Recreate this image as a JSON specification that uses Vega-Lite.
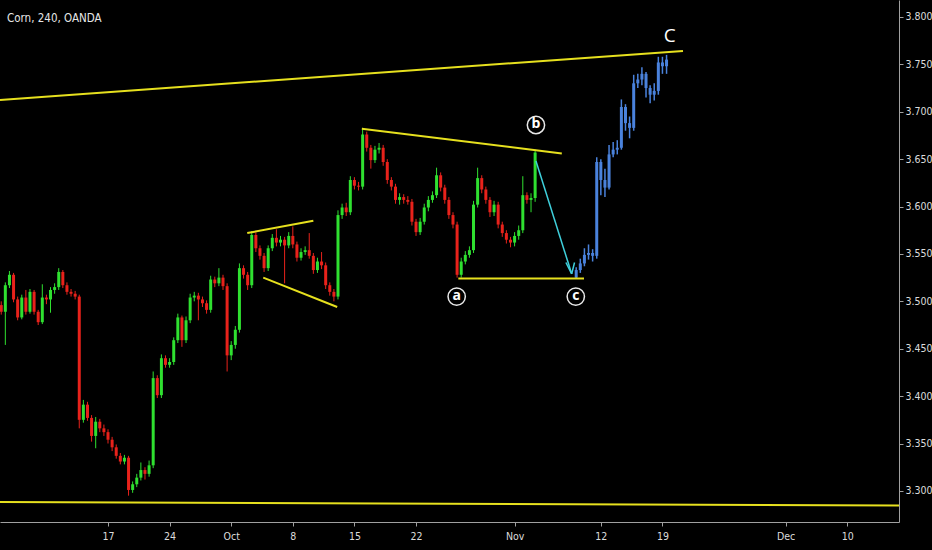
{
  "$schema": "https://vega.github.io/schema/vega-lite/v6.json",
  "width": 899,
  "height": 522,
  "autosize": {"type": "none"},
  "padding": {"left": 0, "top": 0, "right": 33, "bottom": 28},
  "background": "#000000",
  "config": {
    "view": {"stroke": null},
    "axis": {"grid": false, "domainColor": "#a0a0a0", "tickColor": "#a0a0a0", "labelColor": "#dcdcdc", "labelFont": "DejaVu Sans Condensed, Liberation Sans, sans-serif", "labelFontSize": 10.5, "tickSize": 4, "domainWidth": 1}
  },
  "title": {
    "text": "Corn, 240, OANDA",
    "anchor": "start",
    "frame": "group",
    "orient": "top",
    "offset": -23,
    "dx": 7,
    "dy": 10,
    "baseline": "alphabetic",
    "font": "DejaVu Sans Condensed, Liberation Sans, sans-serif",
    "fontSize": 11.5,
    "fontWeight": "normal",
    "color": "#e6e6e6"
  },
  "datasets": {
    "candles": [
      {"i":-26,"o":3.496,"h":3.500,"l":3.486,"c":3.489},
      {"i":-25,"o":3.489,"h":3.520,"l":3.454,"c":3.517},
      {"i":-24,"o":3.517,"h":3.532,"l":3.514,"c":3.528},
      {"i":-23,"o":3.528,"h":3.530,"l":3.499,"c":3.502},
      {"i":-22,"o":3.502,"h":3.505,"l":3.480,"c":3.483},
      {"i":-21,"o":3.483,"h":3.507,"l":3.481,"c":3.504},
      {"i":-20,"o":3.504,"h":3.512,"l":3.486,"c":3.489},
      {"i":-19,"o":3.489,"h":3.513,"l":3.487,"c":3.510},
      {"i":-18,"o":3.510,"h":3.512,"l":3.486,"c":3.489},
      {"i":-17,"o":3.489,"h":3.491,"l":3.475,"c":3.478},
      {"i":-16,"o":3.478,"h":3.518,"l":3.476,"c":3.504},
      {"i":-15,"o":3.504,"h":3.507,"l":3.497,"c":3.502},
      {"i":-14,"o":3.502,"h":3.515,"l":3.488,"c":3.512},
      {"i":-13,"o":3.512,"h":3.519,"l":3.508,"c":3.515},
      {"i":-12,"o":3.515,"h":3.535,"l":3.512,"c":3.531},
      {"i":-11,"o":3.531,"h":3.533,"l":3.514,"c":3.517},
      {"i":-10,"o":3.517,"h":3.520,"l":3.507,"c":3.510},
      {"i":-9,"o":3.510,"h":3.513,"l":3.505,"c":3.508},
      {"i":-8,"o":3.508,"h":3.511,"l":3.502,"c":3.505},
      {"i":-7,"o":3.505,"h":3.507,"l":3.366,"c":3.375},
      {"i":-6,"o":3.375,"h":3.396,"l":3.372,"c":3.391},
      {"i":-5,"o":3.391,"h":3.394,"l":3.374,"c":3.377},
      {"i":-4,"o":3.377,"h":3.380,"l":3.352,"c":3.358},
      {"i":-3,"o":3.358,"h":3.378,"l":3.345,"c":3.373},
      {"i":-2,"o":3.373,"h":3.376,"l":3.362,"c":3.366},
      {"i":-1,"o":3.366,"h":3.370,"l":3.358,"c":3.362},
      {"i":0,"o":3.362,"h":3.365,"l":3.350,"c":3.354},
      {"i":1,"o":3.354,"h":3.357,"l":3.342,"c":3.346},
      {"i":2,"o":3.346,"h":3.349,"l":3.334,"c":3.337},
      {"i":3,"o":3.337,"h":3.340,"l":3.328,"c":3.331},
      {"i":4,"o":3.331,"h":3.338,"l":3.328,"c":3.335},
      {"i":5,"o":3.335,"h":3.337,"l":3.295,"c":3.301},
      {"i":6,"o":3.301,"h":3.310,"l":3.298,"c":3.307},
      {"i":7,"o":3.307,"h":3.318,"l":3.304,"c":3.314},
      {"i":8,"o":3.314,"h":3.330,"l":3.311,"c":3.322},
      {"i":9,"o":3.322,"h":3.325,"l":3.312,"c":3.318},
      {"i":10,"o":3.318,"h":3.332,"l":3.315,"c":3.327},
      {"i":11,"o":3.327,"h":3.426,"l":3.324,"c":3.419},
      {"i":12,"o":3.419,"h":3.422,"l":3.398,"c":3.401},
      {"i":13,"o":3.401,"h":3.444,"l":3.398,"c":3.440},
      {"i":14,"o":3.440,"h":3.443,"l":3.430,"c":3.433},
      {"i":15,"o":3.433,"h":3.440,"l":3.430,"c":3.436},
      {"i":16,"o":3.436,"h":3.462,"l":3.433,"c":3.459},
      {"i":17,"o":3.459,"h":3.487,"l":3.456,"c":3.483},
      {"i":18,"o":3.483,"h":3.485,"l":3.452,"c":3.459},
      {"i":19,"o":3.459,"h":3.484,"l":3.456,"c":3.480},
      {"i":20,"o":3.480,"h":3.508,"l":3.477,"c":3.504},
      {"i":21,"o":3.504,"h":3.510,"l":3.500,"c":3.506},
      {"i":22,"o":3.506,"h":3.509,"l":3.480,"c":3.502},
      {"i":23,"o":3.502,"h":3.505,"l":3.494,"c":3.498},
      {"i":24,"o":3.498,"h":3.501,"l":3.487,"c":3.491},
      {"i":25,"o":3.491,"h":3.527,"l":3.488,"c":3.523},
      {"i":26,"o":3.523,"h":3.526,"l":3.515,"c":3.519},
      {"i":27,"o":3.519,"h":3.535,"l":3.516,"c":3.525},
      {"i":28,"o":3.525,"h":3.528,"l":3.512,"c":3.516},
      {"i":29,"o":3.516,"h":3.519,"l":3.426,"c":3.443},
      {"i":30,"o":3.443,"h":3.458,"l":3.438,"c":3.454},
      {"i":31,"o":3.454,"h":3.474,"l":3.450,"c":3.470},
      {"i":32,"o":3.470,"h":3.540,"l":3.467,"c":3.535},
      {"i":33,"o":3.535,"h":3.538,"l":3.524,"c":3.528},
      {"i":34,"o":3.528,"h":3.531,"l":3.512,"c":3.517},
      {"i":35,"o":3.517,"h":3.574,"l":3.514,"c":3.570},
      {"i":36,"o":3.570,"h":3.573,"l":3.552,"c":3.556},
      {"i":37,"o":3.556,"h":3.559,"l":3.544,"c":3.548},
      {"i":38,"o":3.548,"h":3.551,"l":3.531,"c":3.535},
      {"i":39,"o":3.535,"h":3.559,"l":3.532,"c":3.556},
      {"i":40,"o":3.556,"h":3.571,"l":3.553,"c":3.567},
      {"i":41,"o":3.567,"h":3.576,"l":3.558,"c":3.562},
      {"i":42,"o":3.562,"h":3.569,"l":3.558,"c":3.565},
      {"i":43,"o":3.565,"h":3.568,"l":3.519,"c":3.559},
      {"i":44,"o":3.559,"h":3.573,"l":3.556,"c":3.569},
      {"i":45,"o":3.569,"h":3.579,"l":3.556,"c":3.560},
      {"i":46,"o":3.560,"h":3.563,"l":3.542,"c":3.546},
      {"i":47,"o":3.546,"h":3.556,"l":3.543,"c":3.552},
      {"i":48,"o":3.552,"h":3.558,"l":3.549,"c":3.554},
      {"i":49,"o":3.554,"h":3.572,"l":3.545,"c":3.548},
      {"i":50,"o":3.548,"h":3.551,"l":3.529,"c":3.533},
      {"i":51,"o":3.533,"h":3.546,"l":3.530,"c":3.542},
      {"i":52,"o":3.542,"h":3.552,"l":3.534,"c":3.538},
      {"i":53,"o":3.538,"h":3.541,"l":3.513,"c":3.517},
      {"i":54,"o":3.517,"h":3.520,"l":3.506,"c":3.510},
      {"i":55,"o":3.510,"h":3.513,"l":3.500,"c":3.505},
      {"i":56,"o":3.505,"h":3.596,"l":3.502,"c":3.591},
      {"i":57,"o":3.591,"h":3.603,"l":3.587,"c":3.599},
      {"i":58,"o":3.599,"h":3.604,"l":3.590,"c":3.594},
      {"i":59,"o":3.594,"h":3.632,"l":3.591,"c":3.628},
      {"i":60,"o":3.628,"h":3.631,"l":3.618,"c":3.622},
      {"i":61,"o":3.622,"h":3.626,"l":3.617,"c":3.621},
      {"i":62,"o":3.621,"h":3.683,"l":3.618,"c":3.676},
      {"i":63,"o":3.676,"h":3.679,"l":3.658,"c":3.662},
      {"i":64,"o":3.662,"h":3.665,"l":3.640,"c":3.649},
      {"i":65,"o":3.649,"h":3.664,"l":3.646,"c":3.660},
      {"i":66,"o":3.660,"h":3.667,"l":3.656,"c":3.662},
      {"i":67,"o":3.662,"h":3.665,"l":3.643,"c":3.647},
      {"i":68,"o":3.647,"h":3.650,"l":3.624,"c":3.628},
      {"i":69,"o":3.628,"h":3.631,"l":3.617,"c":3.621},
      {"i":70,"o":3.621,"h":3.624,"l":3.603,"c":3.607},
      {"i":71,"o":3.607,"h":3.614,"l":3.602,"c":3.610},
      {"i":72,"o":3.610,"h":3.613,"l":3.603,"c":3.607},
      {"i":73,"o":3.607,"h":3.611,"l":3.602,"c":3.605},
      {"i":74,"o":3.605,"h":3.608,"l":3.580,"c":3.584},
      {"i":75,"o":3.584,"h":3.587,"l":3.569,"c":3.573},
      {"i":76,"o":3.573,"h":3.588,"l":3.570,"c":3.584},
      {"i":77,"o":3.584,"h":3.603,"l":3.581,"c":3.599},
      {"i":78,"o":3.599,"h":3.611,"l":3.595,"c":3.607},
      {"i":79,"o":3.607,"h":3.616,"l":3.604,"c":3.612},
      {"i":80,"o":3.612,"h":3.641,"l":3.609,"c":3.633},
      {"i":81,"o":3.633,"h":3.636,"l":3.616,"c":3.620},
      {"i":82,"o":3.620,"h":3.623,"l":3.603,"c":3.607},
      {"i":83,"o":3.607,"h":3.610,"l":3.587,"c":3.591},
      {"i":84,"o":3.591,"h":3.594,"l":3.577,"c":3.581},
      {"i":85,"o":3.581,"h":3.584,"l":3.525,"c":3.528},
      {"i":86,"o":3.528,"h":3.546,"l":3.525,"c":3.542},
      {"i":87,"o":3.542,"h":3.553,"l":3.539,"c":3.549},
      {"i":88,"o":3.549,"h":3.558,"l":3.546,"c":3.554},
      {"i":89,"o":3.554,"h":3.606,"l":3.551,"c":3.602},
      {"i":90,"o":3.602,"h":3.641,"l":3.599,"c":3.630},
      {"i":91,"o":3.630,"h":3.633,"l":3.614,"c":3.618},
      {"i":92,"o":3.618,"h":3.621,"l":3.603,"c":3.607},
      {"i":93,"o":3.607,"h":3.610,"l":3.589,"c":3.594},
      {"i":94,"o":3.594,"h":3.606,"l":3.590,"c":3.602},
      {"i":95,"o":3.602,"h":3.605,"l":3.577,"c":3.581},
      {"i":96,"o":3.581,"h":3.584,"l":3.568,"c":3.572},
      {"i":97,"o":3.572,"h":3.575,"l":3.561,"c":3.565},
      {"i":98,"o":3.565,"h":3.568,"l":3.557,"c":3.562},
      {"i":99,"o":3.562,"h":3.573,"l":3.558,"c":3.569},
      {"i":100,"o":3.569,"h":3.580,"l":3.565,"c":3.575},
      {"i":101,"o":3.575,"h":3.632,"l":3.572,"c":3.612},
      {"i":102,"o":3.612,"h":3.615,"l":3.603,"c":3.607},
      {"i":103,"o":3.607,"h":3.614,"l":3.594,"c":3.609},
      {"i":104,"o":3.609,"h":3.660,"l":3.605,"c":3.657}
    ],
    "projection": [
      {"i":114,"o":3.525,"h":3.536,"l":3.524,"c":3.533},
      {"i":115,"o":3.533,"h":3.545,"l":3.530,"c":3.540},
      {"i":116,"o":3.540,"h":3.556,"l":3.537,"c":3.549},
      {"i":117,"o":3.549,"h":3.560,"l":3.544,"c":3.551},
      {"i":118,"o":3.551,"h":3.555,"l":3.542,"c":3.548},
      {"i":119,"o":3.548,"h":3.652,"l":3.545,"c":3.647},
      {"i":120,"o":3.647,"h":3.650,"l":3.612,"c":3.628},
      {"i":121,"o":3.628,"h":3.640,"l":3.610,"c":3.620},
      {"i":122,"o":3.620,"h":3.665,"l":3.618,"c":3.655},
      {"i":123,"o":3.655,"h":3.668,"l":3.652,"c":3.660},
      {"i":124,"o":3.660,"h":3.670,"l":3.655,"c":3.662},
      {"i":125,"o":3.662,"h":3.713,"l":3.660,"c":3.705},
      {"i":126,"o":3.705,"h":3.708,"l":3.680,"c":3.688},
      {"i":127,"o":3.688,"h":3.695,"l":3.672,"c":3.683},
      {"i":128,"o":3.683,"h":3.739,"l":3.680,"c":3.730},
      {"i":129,"o":3.730,"h":3.740,"l":3.725,"c":3.734},
      {"i":130,"o":3.734,"h":3.747,"l":3.728,"c":3.740},
      {"i":131,"o":3.740,"h":3.742,"l":3.715,"c":3.725},
      {"i":132,"o":3.725,"h":3.728,"l":3.709,"c":3.718},
      {"i":133,"o":3.718,"h":3.730,"l":3.712,"c":3.722},
      {"i":134,"o":3.722,"h":3.758,"l":3.718,"c":3.752},
      {"i":135,"o":3.752,"h":3.758,"l":3.740,"c":3.748},
      {"i":136,"o":3.748,"h":3.760,"l":3.740,"c":3.755}
    ],
    "trendlines": [
      {"name":"upper channel","x1":-26.3,"y1":3.7125,"x2":140,"y2":3.7642},
      {"name":"lower channel","x1":-26.3,"y1":3.2884,"x2":192.6,"y2":3.2845},
      {"name":"flag top","x1":33.9,"y1":3.572,"x2":50.0,"y2":3.585},
      {"name":"flag bottom","x1":37.8,"y1":3.525,"x2":55.8,"y2":3.494},
      {"name":"b line","x1":61.8,"y1":3.682,"x2":110.5,"y2":3.656},
      {"name":"a-c line","x1":85.3,"y1":3.524,"x2":115.9,"y2":3.524}
    ],
    "arrow": [
      {"x1":104.2,"y1":3.648,"x2":112.9,"y2":3.529},
      {"x1":111.5,"y1":3.541,"x2":112.9,"y2":3.529},
      {"x1":113.6,"y1":3.541,"x2":112.9,"y2":3.529}
    ],
    "waves": [
      {"i":84.9,"p":3.505,"t":"a"},
      {"i":104.2,"p":3.686,"t":"b"},
      {"i":113.9,"p":3.505,"t":"c"}
    ],
    "bigwave": [
      {"i":136.8,"p":3.780,"t":"C"}
    ]
  },
  "layer": [
    {
      "data": {"name": "candles"},
      "mark": {"type": "rule", "strokeWidth": 1},
      "encoding": {
        "x": {"field": "i", "type": "quantitative", "title": null, "scale": {"domain": [-26.3, 192.6], "nice": false, "zero": false},
              "axis": {"title": null, "values": [0,15,30,45,60,75,99,120,135,165,180], "labelPadding": 5,
                       "labelExpr": "datum.value==0?'17':datum.value==15?'24':datum.value==30?'Oct':datum.value==45?'8':datum.value==60?'15':datum.value==75?'22':datum.value==99?'Nov':datum.value==120?'12':datum.value==135?'19':datum.value==165?'Dec':'10'"}},
        "y": {"field": "l", "type": "quantitative", "title": null, "scale": {"domain": [3.2672, 3.8179], "nice": false, "zero": false},
              "axis": {"title": null, "orient": "right", "values": [3.3,3.35,3.4,3.45,3.5,3.55,3.6,3.65,3.7,3.75,3.8], "format": ".3f", "labelPadding": 2}},
        "y2": {"field": "h"},
        "color": {"condition": {"test": "datum.c >= datum.o", "value": "#2fe030"}, "value": "#e8221b"}
      }
    },
    {
      "data": {"name": "candles"},
      "mark": {"type": "rule", "strokeWidth": 3, "strokeCap": "butt"},
      "encoding": {
        "x": {"field": "i", "type": "quantitative", "title": null},
        "y": {"field": "o", "type": "quantitative", "title": null},
        "y2": {"field": "c"},
        "color": {"condition": {"test": "datum.c >= datum.o", "value": "#2fe030"}, "value": "#e8221b"}
      }
    },
    {
      "data": {"name": "projection"},
      "mark": {"type": "rule", "strokeWidth": 1.5, "color": "#4a82dc"},
      "encoding": {
        "x": {"field": "i", "type": "quantitative", "title": null},
        "y": {"field": "l", "type": "quantitative", "title": null},
        "y2": {"field": "h"}
      }
    },
    {
      "data": {"name": "projection"},
      "mark": {"type": "rule", "strokeWidth": 3, "strokeCap": "butt", "color": "#4a82dc"},
      "encoding": {
        "x": {"field": "i", "type": "quantitative", "title": null},
        "y": {"field": "o", "type": "quantitative", "title": null},
        "y2": {"field": "c"}
      }
    },
    {
      "data": {"name": "trendlines"},
      "mark": {"type": "rule", "strokeWidth": 2, "color": "#e6e01e"},
      "encoding": {
        "x": {"field": "x1", "type": "quantitative", "title": null},
        "y": {"field": "y1", "type": "quantitative", "title": null},
        "x2": {"field": "x2"},
        "y2": {"field": "y2"}
      }
    },
    {
      "data": {"name": "arrow"},
      "mark": {"type": "rule", "strokeWidth": 1.5, "color": "#3fd0dc"},
      "encoding": {
        "x": {"field": "x1", "type": "quantitative", "title": null},
        "y": {"field": "y1", "type": "quantitative", "title": null},
        "x2": {"field": "x2"},
        "y2": {"field": "y2"}
      }
    },
    {
      "data": {"name": "waves"},
      "mark": {"type": "point", "shape": "circle", "size": 300, "filled": true, "fill": "#000000", "stroke": "#e8e8e8", "strokeWidth": 1.5, "opacity": 1},
      "encoding": {
        "x": {"field": "i", "type": "quantitative", "title": null},
        "y": {"field": "p", "type": "quantitative", "title": null}
      }
    },
    {
      "data": {"name": "waves"},
      "mark": {"type": "text", "color": "#ffffff", "fontSize": 14, "fontWeight": "bold", "font": "Open Sans, sans-serif", "align": "center", "baseline": "middle", "dy": -1},
      "encoding": {
        "x": {"field": "i", "type": "quantitative", "title": null},
        "y": {"field": "p", "type": "quantitative", "title": null},
        "text": {"field": "t"}
      }
    },
    {
      "data": {"name": "bigwave"},
      "mark": {"type": "text", "color": "#ffffff", "fontSize": 19, "font": "Open Sans, sans-serif", "align": "center", "baseline": "middle"},
      "encoding": {
        "x": {"field": "i", "type": "quantitative", "title": null},
        "y": {"field": "p", "type": "quantitative", "title": null},
        "text": {"field": "t"}
      }
    }
  ]
}
